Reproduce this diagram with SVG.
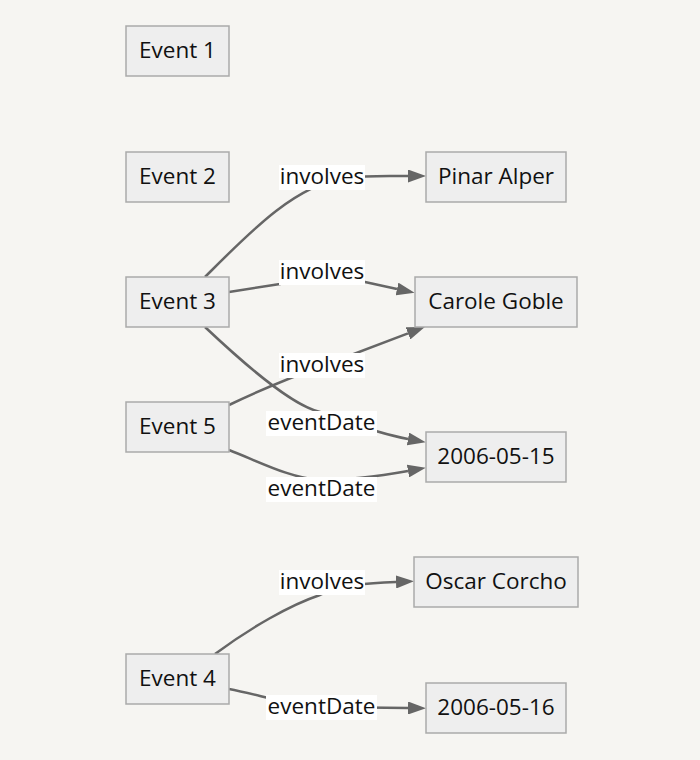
<svg xmlns="http://www.w3.org/2000/svg" width="700" height="760" viewBox="0 0 700 760">
<style>
.node rect{fill:#eeeeee;stroke:#aaaaaa;stroke-width:1.5}
text{font-family:"Open Sans","DejaVu Sans",sans-serif;font-size:22.5px;fill:#111;text-anchor:middle;dominant-baseline:central}
.edge{fill:none;stroke:#666666;stroke-width:2.5}
.lbl rect{fill:#ffffff}
</style>
<defs>
<marker id="arr" markerUnits="userSpaceOnUse" markerWidth="18" markerHeight="13" refX="0" refY="6.5" orient="auto" viewBox="0 0 18 13">
<path d="M0,0 L18,6.5 L0,13 z" fill="#666666"/>
</marker>
</defs>
<rect width="700" height="760" fill="#f6f5f2"/>
<g id="connectors">
<path class="edge" marker-end="url(#arr)" d="M205,277 C250,232 295,185 345,178 C370,175 390,176 408,176"/>
<path class="edge" marker-end="url(#arr)" d="M229,292 L280,284 C300,280 340,279 365,282 L397,289"/>
<path class="edge" marker-end="url(#arr)" d="M205,327 C240,360 290,405 320,412 C340,418 370,432 408,439"/>
<path class="edge" marker-end="url(#arr)" d="M229,405 C260,390 300,374 330,363 L408,333.4"/>
<path class="edge" marker-end="url(#arr)" d="M229,450 C260,462 290,478 320,480 C350,480 380,476 408,471"/>
<path class="edge" marker-end="url(#arr)" d="M215,654 C250,628 290,605 320,595 C340,585 370,583 396,582"/>
<path class="edge" marker-end="url(#arr)" d="M229,689 C260,695 290,705 320,707 L408,708"/>
<g class="lbl"><rect x="279" y="165" width="86" height="25"/><text x="322" y="175.5">involves</text></g>
<g class="lbl"><rect x="279" y="260" width="86" height="25"/><text x="322" y="270.5">involves</text></g>
<g class="lbl"><rect x="279" y="353" width="86" height="25"/><text x="322" y="363.5">involves</text></g>
<g class="lbl"><rect x="266" y="411" width="111" height="25"/><text x="321.5" y="421.5">eventDate</text></g>
<g class="lbl"><rect x="266" y="477" width="111" height="25"/><text x="321.5" y="487.5">eventDate</text></g>
<g class="lbl"><rect x="279" y="570" width="86" height="25"/><text x="322" y="580.5">involves</text></g>
<g class="lbl"><rect x="266" y="695" width="111" height="25"/><text x="321.5" y="705.5">eventDate</text></g>
</g>
<g id="event1" class="node"><rect x="126" y="26" width="103" height="50"/><text x="177.5" y="49.5">Event 1</text></g>
<g id="event2" class="node"><rect x="126" y="152" width="103" height="50"/><text x="177.5" y="175.5">Event 2</text></g>
<g id="event3" class="node"><rect x="126" y="277" width="103" height="50"/><text x="177.5" y="300.5">Event 3</text></g>
<g id="event5" class="node"><rect x="126" y="402" width="103" height="50"/><text x="177.5" y="425.5">Event 5</text></g>
<g id="event4" class="node"><rect x="126" y="654" width="103" height="50"/><text x="177.5" y="677.5">Event 4</text></g>
<g id="pinar" class="node"><rect x="426" y="152" width="140" height="50"/><text x="496" y="175.5">Pinar Alper</text></g>
<g id="carole" class="node"><rect x="415" y="277" width="162" height="50"/><text x="496" y="300.5">Carole Goble</text></g>
<g id="d0515" class="node"><rect x="426" y="432" width="140" height="50"/><text x="496" y="455.5">2006-05-15</text></g>
<g id="oscar" class="node"><rect x="414" y="557" width="164" height="50"/><text x="496" y="580.5">Oscar Corcho</text></g>
<g id="d0516" class="node"><rect x="426" y="683" width="140" height="50"/><text x="496" y="706.5">2006-05-16</text></g>
</svg>
